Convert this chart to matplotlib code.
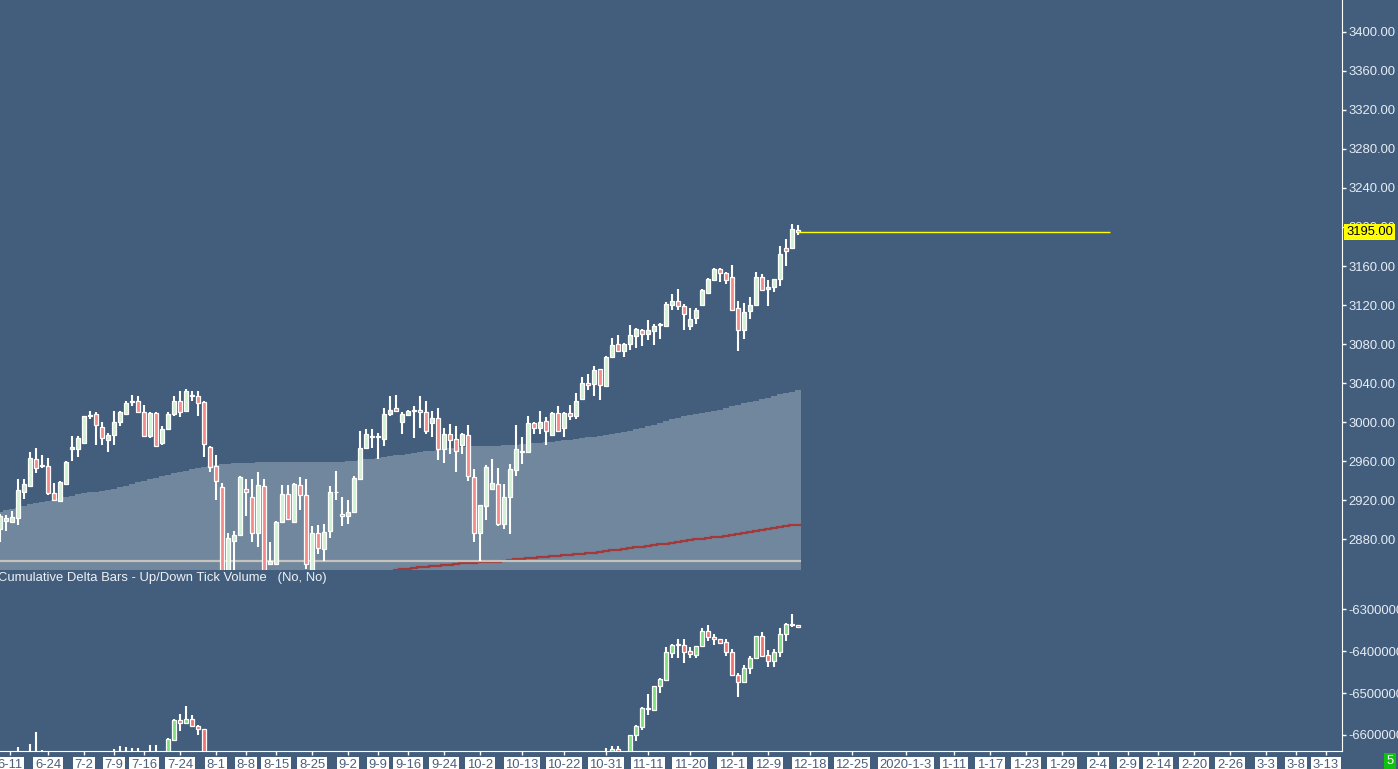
import numpy as np
import matplotlib.pyplot as plt
from matplotlib.patches import Rectangle
from matplotlib.ticker import FormatStrFormatter
import matplotlib.transforms as mtrans

plt.rcParams['font.family'] = ['Liberation Sans', 'DejaVu Sans']

# daily price bars, bar 0 is the first one on the left
price_open = [
    2891, 2899, 2898, 2902, 2929, 2935, 2962, 2955, 2955, 2927,
    2919, 2937, 2973, 2973, 2979, 3006, 3008, 2995, 2982, 2987,
    3000, 3008, 3021, 3022, 3010, 2986, 3009, 2979, 2993, 3008,
    3022, 3011, 3027, 3027, 3021, 2975, 2955, 2934, 2842, 2878,
    2884, 2932, 2923, 2887, 2935, 2855, 2855, 2898, 2926, 2898,
    2936, 2925, 2843, 2887, 2870, 2889, 2928, 2906, 2904, 2908,
    2942, 2974, 2985, 2985, 2983, 3008, 3015, 3000, 3007, 3011,
    3013, 3010, 2999, 3004, 2973, 2988, 2983, 2977, 2987, 2944,
    2886, 2914, 2932, 2937, 2896, 2923, 2951, 2971, 2969, 2999,
    2994, 3001, 2987, 3009, 2994, 3009, 3006, 3024, 3040, 3039,
    3055, 3037, 3067, 3080, 3073, 3080, 3088, 3094, 3090, 3093,
    3100, 3099, 3120, 3124, 3119, 3099, 3107, 3120, 3132, 3146,
    3157, 3153, 3149, 3117, 3094, 3114, 3120, 3149, 3136, 3138,
    3147, 3178, 3178, 3197]
price_high = [
    2906, 2905, 2909, 2942, 2942, 2969, 2974, 2966, 2963, 2938,
    2940, 2960, 2986, 2986, 3006, 3011, 3010, 3000, 2989, 3011,
    3011, 3022, 3028, 3027, 3018, 3010, 3010, 2996, 3010, 3027,
    3032, 3034, 3032, 3032, 3022, 2976, 2966, 2938, 2887, 2889,
    2945, 2942, 2942, 2949, 2942, 2877, 2899, 2936, 2936, 2938,
    2944, 2942, 2894, 2895, 2896, 2935, 2950, 2923, 2920, 2945,
    2991, 2993, 2993, 2989, 3015, 3027, 3028, 3010, 3013, 3017,
    3027, 3022, 3011, 3015, 2994, 2998, 2996, 2989, 2997, 2952,
    2915, 2956, 2962, 2953, 2937, 2957, 2997, 2985, 3006, 3000,
    3011, 3005, 3010, 3017, 3010, 3018, 3030, 3046, 3049, 3058,
    3055, 3068, 3086, 3089, 3081, 3100, 3096, 3095, 3105, 3101,
    3102, 3123, 3131, 3136, 3121, 3117, 3117, 3136, 3148, 3158,
    3158, 3154, 3161, 3124, 3122, 3128, 3154, 3152, 3146, 3147,
    3181, 3188, 3203, 3202]
price_low = [
    2877, 2889, 2897, 2895, 2921, 2934, 2948, 2953, 2925, 2920,
    2919, 2936, 2960, 2964, 2979, 3003, 2977, 2977, 2969, 2977,
    2996, 3008, 3017, 3010, 2986, 2984, 2976, 2977, 2993, 3006,
    3005, 3011, 3022, 3006, 2964, 2949, 2920, 2836, 2834, 2845,
    2884, 2904, 2877, 2872, 2838, 2854, 2854, 2897, 2901, 2898,
    2910, 2850, 2838, 2865, 2858, 2881, 2920, 2894, 2896, 2907,
    2941, 2974, 2974, 2962, 2976, 3006, 3010, 2988, 3006, 2984,
    2994, 2988, 2985, 2961, 2958, 2967, 2949, 2967, 2940, 2877,
    2858, 2900, 2932, 2894, 2891, 2885, 2945, 2957, 2969, 2988,
    2988, 2977, 2987, 2991, 2985, 3002, 3003, 3024, 3033, 3027,
    3023, 3036, 3066, 3073, 3067, 3074, 3076, 3078, 3084, 3079,
    3085, 3099, 3115, 3115, 3094, 3094, 3101, 3120, 3131, 3145,
    3144, 3142, 3114, 3073, 3085, 3106, 3120, 3134, 3119, 3133,
    3140, 3160, 3177, 3192]
price_close = [
    2904, 2902, 2903, 2931, 2937, 2963, 2953, 2956, 2927, 2920,
    2939, 2959, 2975, 2984, 3006, 3007, 2997, 2984, 2987, 3000,
    3010, 3020, 3022, 3010, 2986, 3009, 2976, 2993, 3008, 3022,
    3010, 3032, 3028, 3020, 2978, 2954, 2940, 2842, 2881, 2884,
    2944, 2928, 2887, 2936, 2843, 2858, 2898, 2926, 2901, 2937,
    2925, 2855, 2887, 2871, 2888, 2928, 2929, 2904, 2908, 2943,
    2974, 2988, 2986, 2986, 3008, 3013, 3011, 3008, 3011, 3012,
    3010, 2991, 3004, 2973, 2988, 2982, 2971, 2988, 2945, 2886,
    2915, 2954, 2938, 2896, 2923, 2952, 2973, 2969, 2999, 2994,
    3000, 2991, 3009, 2991, 3009, 3006, 3022, 3040, 3038, 3053,
    3038, 3067, 3079, 3073, 3080, 3089, 3095, 3090, 3094, 3099,
    3100, 3121, 3124, 3119, 3111, 3106, 3115, 3135, 3147, 3157,
    3153, 3146, 3115, 3094, 3113, 3120, 3149, 3135, 3139, 3147,
    3172, 3175, 3198, 3195]

# shaded study (filled to the bottom of the price pane)
study_fill = [
    2908.5, 2910, 2911, 2912.5, 2914, 2916, 2917.5, 2918.5, 2919.5, 2920.5,
    2921.5, 2923, 2924.5, 2926, 2927, 2928, 2929, 2930, 2931, 2932,
    2933.5, 2935, 2937, 2938.5, 2940, 2941.5, 2943, 2944.5, 2946, 2947.5,
    2949, 2950.5, 2952, 2953.5, 2954.5, 2955.5, 2956.5, 2957, 2957.5, 2958,
    2958, 2958.3, 2958.5, 2958.8, 2958.8, 2958.8, 2958.8, 2958.8, 2958.8, 2958.8,
    2959, 2959, 2959.2, 2959.5, 2959.5, 2959.5, 2959.5, 2959.5, 2960, 2960.5,
    2961.5, 2962, 2962.5, 2963, 2964, 2965, 2966, 2966.5, 2967.5, 2968.5,
    2969, 2970, 2971, 2971.5, 2972.5, 2973.5, 2974, 2974.5, 2975, 2975.5,
    2975.8, 2975.8, 2975.8, 2975.8, 2976.5, 2976.5, 2977, 2977.5, 2978, 2978.5,
    2979, 2979.5, 2980, 2981, 2981.5, 2982, 2983, 2983.5, 2984.5, 2985,
    2986, 2987, 2988, 2989, 2990, 2991.5, 2993, 2994.5, 2996, 2997.5,
    2999, 3001, 3003, 3004.5, 3006, 3007.5, 3008.5, 3009.5, 3010.5, 3011.5,
    3012.5, 3014.5, 3016.5, 3018, 3019.5, 3021, 3022, 3023.5, 3025, 3027,
    3028.5, 3030, 3031, 3032.5]

# red study line, from bar 66 on
red_start = 66
red_line = [
    2849, 2849.5, 2850, 2850.7, 2851.2, 2851.8, 2852.4, 2853, 2853.6, 2854.2,
    2854.8, 2855.4, 2855.8, 2856, 2856.3, 2856.6, 2856.9, 2857.2, 2858, 2858.8,
    2859.7, 2860.2, 2860.7, 2861.2, 2861.6, 2862, 2862.5, 2863, 2863.5, 2864,
    2864.6, 2865.2, 2865.8, 2866.4, 2867, 2867.8, 2868.6, 2869.4, 2870.2, 2871,
    2871.8, 2872.5, 2873.2, 2874, 2874.8, 2875.5, 2876.4, 2877.3, 2878.2, 2879.1,
    2880, 2880.8, 2881.4, 2882, 2882.6, 2883.2, 2884, 2885.2, 2886.4, 2887.6,
    2888.8, 2890, 2891, 2891.8, 2892.6, 2893.4, 2894.3, 2895.2]

gray_level = 2857.5
last_price = 3195.0
last_line_end = 185

# cumulative delta bars that reach into the lower pane
delta_bars = [3, 5, 6, 7, 19, 20, 21, 22, 23, 25, 26, 28, 29, 30, 31, 32, 33, 34,
              101, 102, 103, 105, 106, 107, 108, 109, 110, 111, 112, 113, 114,
              115, 116, 117, 118, 119, 120, 121, 122, 123, 124, 125, 126, 127,
              128, 129, 130, 131, 132, 133]
delta_open = [
    -6660000, -6660000, -6660000, -6660000, -6660000, -6660000, -6660000,
    -6660000, -6660000, -6660000, -6660000, -6660000, -6611200, -6565200,
    -6571500, -6562000, -6577900, -6585800,
    -6660000, -6660000, -6633450, -6660000, -6600900, -6581900, -6537400,
    -6539800, -6484200, -6468300, -6403300, -6385000, -6385000,
    -6399300, -6408800, -6386600, -6351700, -6366800, -6371500, -6377100,
    -6400900, -6456400, -6473900, -6440600, -6416800, -6363600,
    -6408800, -6422300, -6402500, -6358800, -6335800, -6337400]
delta_high = [
    -6629500, -6620700, -6592200, -6635000, -6632600, -6625500, -6627900,
    -6630300, -6630300, -6623100, -6623100, -6607250, -6561200, -6549300,
    -6531800, -6551700, -6575500, -6585800,
    -6631100, -6625500, -6625500, -6599300, -6577100, -6534200, -6501700,
    -6482600, -6464400, -6389000, -6383400, -6370700, -6371500,
    -6389000, -6387400, -6343700, -6337400, -6359600, -6371500, -6371500,
    -6394500, -6450900, -6432600, -6410400, -6362800, -6354900,
    -6396900, -6395300, -6343700, -6333400, -6311200, -6337400]
delta_low = [
    -6660000, -6660000, -6660000, -6660000, -6660000, -6660000, -6660000,
    -6660000, -6660000, -6660000, -6660000, -6665000, -6612800, -6591400,
    -6571500, -6579500, -6599300, -6690000,
    -6660000, -6660000, -6660000, -6660000, -6615200, -6589000, -6551700,
    -6541400, -6500100, -6468300, -6416800, -6416800, -6427100,
    -6416800, -6416800, -6386600, -6374700, -6385000, -6379500, -6410400,
    -6458000, -6510400, -6473900, -6454900, -6416800, -6410400,
    -6436600, -6436600, -6412800, -6374700, -6342900, -6343000]
delta_close = [
    -6660000, -6660000, -6660000, -6660000, -6660000, -6660000, -6660000,
    -6660000, -6660000, -6660000, -6660000, -6608800, -6563600, -6571500,
    -6562000, -6579500, -6585800, -6680000,
    -6660000, -6633450, -6660000, -6599300, -6579500, -6535800, -6537400,
    -6484200, -6466800, -6402500, -6385000, -6386000, -6400900,
    -6407200, -6387400, -6350900, -6366800, -6371500, -6379500, -6402500,
    -6458000, -6473900, -6440600, -6415200, -6362800, -6410400,
    -6422300, -6402500, -6358800, -6335000, -6336600, -6343000]

date_labels = ['6-11', '6-24', '7-2', '7-9', '7-16', '7-24', '8-1', '8-8', '8-15',
               '8-25', '9-2', '9-9', '9-16', '9-24', '10-2', '10-13', '10-22',
               '10-31', '11-11', '11-20', '12-1', '12-9', '12-18', '12-25',
               '2020-1-3', '1-11', '1-17', '1-23', '1-29', '2-4', '2-9', '2-14',
               '2-20', '2-26', '3-3', '3-8', '3-13']
date_bars = [1.7, 8, 14, 19, 24, 30, 36, 41, 46, 52, 58, 63, 68, 74, 80, 87, 94,
             101, 108, 115, 122, 128, 135, 142, 151, 159, 165, 171, 177, 183, 188,
             193, 199, 205, 211, 216, 221]

price_ticks = np.arange(2880, 3401, 40)
delta_ticks = [-6300000, -6400000, -6500000, -6600000]

BG = '#425e7c'
W, H = 1398, 769
AXR = 1342          # pixel column of the price scale line
BAR_PX = 6          # pixels per bar
FS = 9.4

fig = plt.figure(figsize=(W / 100, H / 100), dpi=100, facecolor=BG)
ax = fig.add_axes([0, 1 - 570 / H, AXR / W, 570 / H], facecolor=BG)
ax2 = fig.add_axes([0, 1 - 751 / H, AXR / W, 181 / H], facecolor=BG)

xmax = AXR / BAR_PX
ax.set_xlim(0, xmax)
ax2.set_xlim(0, xmax)
ax.set_ylim(2848.6, 3432.5)
ax2.set_ylim(-6638200, -6206200)


def candles(a, xs, o, h, l, c, up, down, min_h):
    for x, op, hi, lo, cl in zip(xs, o, h, l, c):
        a.vlines(x, lo, hi, color='white', lw=1.5, zorder=4)
        body = abs(cl - op)
        face = up if cl > op else down
        if body < min_h:
            face = 'white'
        a.add_patch(Rectangle((x - 0.28, min(op, cl)), 0.56, max(body, min_h),
                              facecolor=face, edgecolor='white', lw=0.9, zorder=5))


n = len(price_close)
edges = np.arange(n + 1) - 0.5
ax.stairs(study_fill, edges, baseline=2800, fill=True, color='#70879d', lw=0, zorder=1)
red_edges = np.arange(red_start, red_start + len(red_line) + 1) - 0.5
ax.stairs(red_line, red_edges, baseline=None, color='#a33a3a', lw=1.6, zorder=2)
ax.hlines(gray_level, -0.5, n - 0.5, color='#c6c2be', lw=1.6, zorder=2.5)
candles(ax, range(n), price_open, price_high, price_low, price_close,
        '#cff3d2', '#f48a8a', 1.0)
ax.hlines(last_price, n - 1, last_line_end, color='#ffff00', lw=1, zorder=6)

candles(ax2, delta_bars, delta_open, delta_high, delta_low, delta_close,
        '#7ddf7d', '#f07272', 2400)

# scales
for a in (ax, ax2):
    for s in a.spines.values():
        s.set_visible(False)
    a.spines['right'].set_visible(True)
    a.spines['right'].set_color('white')
    a.yaxis.tick_right()
    a.tick_params(axis='y', colors='white', labelcolor='#e6edf5', length=3,
                  width=1, labelsize=FS, pad=1.5)
ax2.spines['bottom'].set_visible(True)
ax2.spines['bottom'].set_color('white')

ax.set_xticks([])
ax.set_yticks(price_ticks)
ax.yaxis.set_major_formatter(FormatStrFormatter('%.2f'))
ax2.set_yticks(delta_ticks)
ax2.yaxis.set_major_formatter(FormatStrFormatter('%d'))

ax2.set_xticks(date_bars, date_labels)
ax2.tick_params(axis='x', colors='white', labelcolor='#4d5f7a', length=3,
                width=1, labelsize=FS, pad=2.5)
for lbl in ax2.get_xticklabels():
    lbl.set_bbox(dict(facecolor='white', edgecolor='none', pad=1.2))

trans = mtrans.blended_transform_factory(ax.transAxes, ax.transData)
ax.text(1346 / AXR, last_price, '%.2f' % last_price, transform=trans,
        ha='left', va='center', color='black', fontsize=FS, zorder=10,
        clip_on=False, bbox=dict(facecolor='#ffff00', edgecolor='none', pad=1.3))

fig.text(-2 / W, 1 - 578 / H, 'Cumulative Delta Bars - Up/Down Tick Volume   (No, No)',
         ha='left', va='center', color='#eef2f6', fontsize=FS)
fig.text(1390 / W, 1 - 761 / H, '5', ha='center', va='center', color='white',
         fontsize=FS, bbox=dict(facecolor='#10c010', edgecolor='none', pad=1.5))

fig.savefig('out.png', dpi=100, facecolor=BG)
